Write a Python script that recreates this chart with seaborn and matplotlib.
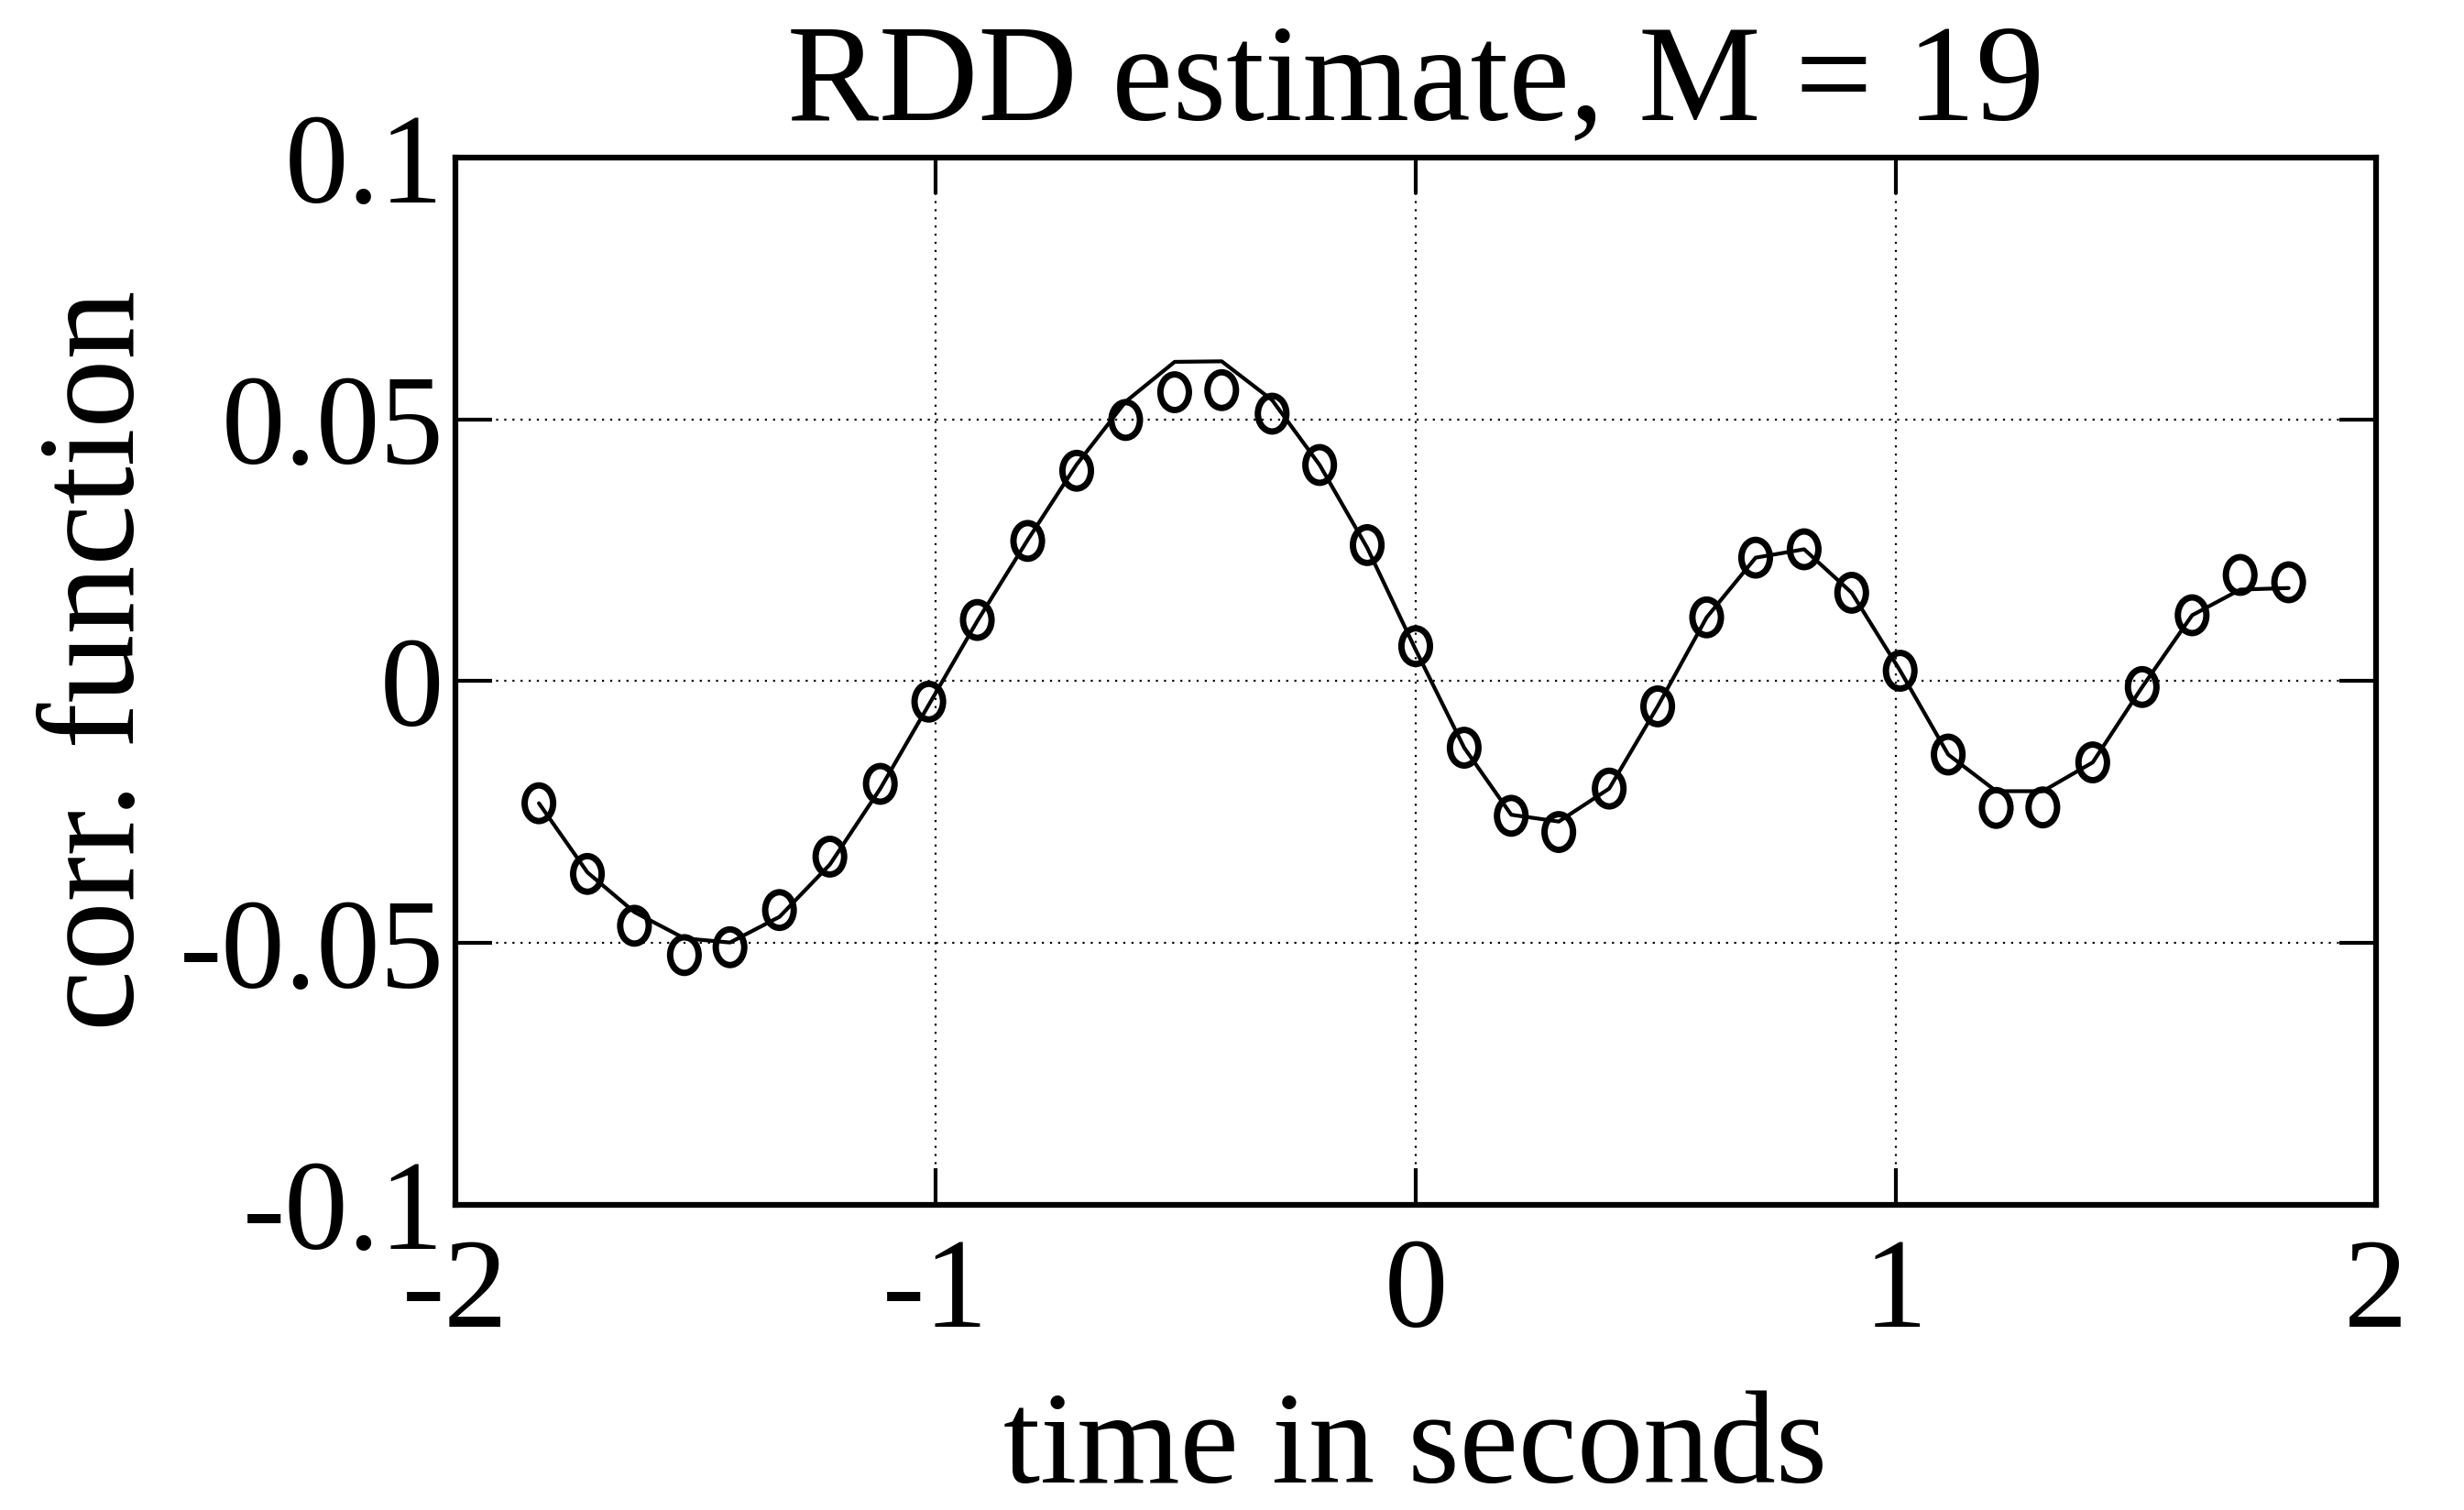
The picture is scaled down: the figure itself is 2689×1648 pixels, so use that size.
import pandas as pd
import matplotlib
matplotlib.use("Agg")
import matplotlib.pyplot as plt
from matplotlib.path import Path
import seaborn as sns

# time lags (s) and the RDD estimate (circles)
lag = [-1.826, -1.725, -1.627, -1.523, -1.428, -1.325, -1.220, -1.115, -1.014, -0.913,
       -0.808, -0.706, -0.604, -0.502, -0.404, -0.299, -0.200, -0.101, 0.000, 0.101,
       0.199, 0.298, 0.403, 0.504, 0.606, 0.708, 0.809, 0.908, 1.009, 1.109,
       1.209, 1.306, 1.410, 1.513, 1.617, 1.717, 1.818]
rdd = [-0.0233, -0.0368, -0.0467, -0.0523, -0.0508, -0.0437, -0.0335, -0.0196, -0.0039, 0.0117,
       0.0268, 0.0402, 0.0499, 0.0552, 0.0556, 0.0511, 0.0413, 0.0260, 0.0067, -0.0127,
       -0.0257, -0.0288, -0.0205, -0.0048, 0.0122, 0.0236, 0.0252, 0.0169, 0.0020, -0.0140,
       -0.0242, -0.0241, -0.0155, -0.0011, 0.0126, 0.0203, 0.0189]
# reference correlation function (solid line)
corr = [-0.0233, -0.0365, -0.0441, -0.0491, -0.0499, -0.0450, -0.0350, -0.0205, -0.0045, 0.0115,
        0.0270, 0.0414, 0.0534, 0.0610, 0.0611, 0.0537, 0.0413, 0.0255, 0.0060, -0.0127,
        -0.0255, -0.0268, -0.0205, -0.0048, 0.0122, 0.0236, 0.0252, 0.0169, 0.0020, -0.0140,
        -0.0210, -0.0210, -0.0155, -0.0011, 0.0126, 0.0175, 0.0178]

xticks = [-2, -1, 0, 1, 2]
xtick_labels = ["-2", "-1", "0", "1", "2"]
yticks = [-0.1, -0.05, 0, 0.05, 0.1]
ytick_labels = ["-0.1", "-0.05", "0", "0.05", "0.1"]

df = pd.DataFrame({"lag": lag, "rdd": rdd, "corr": corr})

sns.set_style("ticks")
plt.rcParams["font.family"] = ["Liberation Serif", "DejaVu Serif"]
plt.rcParams["axes.unicode_minus"] = False
plt.rcParams["text.color"] = "black"
plt.rcParams["axes.labelcolor"] = "black"

# the scanned circles are slightly taller than wide
circ = Path.unit_circle()
oval = Path(circ.vertices * [0.8, 1.0], circ.codes)

fig = plt.figure(figsize=(26.89, 16.48), dpi=100)
ax = fig.add_axes([0.1848, 0.2021, 0.7795, 0.6935])

sns.lineplot(data=df, x="lag", y="corr", color="black", linewidth=3, ax=ax)
sns.scatterplot(data=df, x="lag", y="rdd", marker=oval, s=28**2,
                facecolor="none", edgecolor="black", linewidth=5, ax=ax, zorder=3)

ax.set_xlim(-2, 2)
ax.set_ylim(-0.1, 0.1)
ax.set_xticks(xticks)
ax.set_xticklabels(xtick_labels)
ax.set_yticks(yticks)
ax.set_yticklabels(ytick_labels)

ax.grid(True, color="black", linestyle=(0, (1, 3)), linewidth=1.6)
for s in ax.spines.values():
    s.set_visible(True)
    s.set_linewidth(4.5)
    s.set_color("black")
ax.tick_params(direction="in", length=29, width=3, top=True, right=True,
               labelsize=100, colors="black")
ax.tick_params(axis="x", pad=26)
ax.tick_params(axis="y", pad=9)

ax.set_title("RDD estimate, M = 19", fontsize=108, pad=30)
ax.set_xlabel("time in seconds", fontsize=104)
ax.set_ylabel("corr. function", fontsize=108)
ax.xaxis.set_label_coords(0.5, -0.178)
ax.yaxis.set_label_coords(-0.152, 0.52)

fig.savefig("out.png", dpi=100)
